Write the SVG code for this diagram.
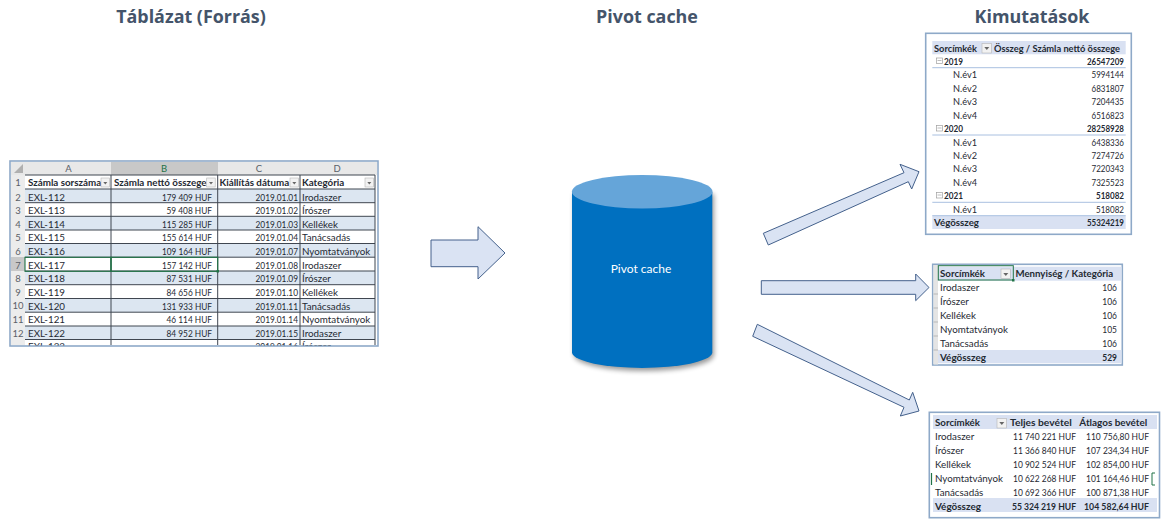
<svg xmlns="http://www.w3.org/2000/svg" width="1161" height="525" viewBox="0 0 1161 525">
<style>
text{font-family:"Lato","Liberation Sans",sans-serif;font-size:9.8px;fill:#1f2a33}
.t{font-family:"Open Sans","Liberation Sans",sans-serif;font-size:17.9px;font-weight:700;fill:#44546a;text-anchor:middle}
.b{font-weight:700}
.r{text-anchor:end}
.c{text-anchor:middle}
.hd{fill:#5a6068;font-size:9.5px;text-anchor:middle}
.frame{fill:#fff;stroke:#8ea9c8;stroke-width:1.6}
.band{fill:#d9e1f2}
.arrow{fill:#dae3f3;stroke:#44618c;stroke-width:1}
.grid{stroke:#3f4650;stroke-width:1}
.lb{stroke:#a9c0e0;stroke-width:1}
.btn{fill:#f2f2f2;stroke:#b5b5b5;stroke-width:.6}
.tri{fill:#666}
</style>
<defs>
<filter id="blur" x="-10%" y="-10%" width="120%" height="120%"><feGaussianBlur stdDeviation="2.4"/></filter>
<clipPath id="tableclip"><rect x="11" y="162" width="366" height="183.500"/></clipPath>
</defs>
<text class="t" x="191" y="23">Táblázat (Forrás)</text>
<text class="t" x="647" y="23">Pivot cache</text>
<text class="t" x="1032" y="23">Kimutatások</text>

<g id="source-table">
<rect class="frame" x="10" y="161" width="368" height="185"/>
<rect x="11" y="162" width="366" height="13" fill="#e8e8e8"/>
<rect x="111" y="162" width="107" height="13" fill="#c8c8c8"/>
<rect x="11" y="175" width="14" height="170" fill="#ececec"/>
<rect x="11" y="257" width="14" height="14" fill="#c8c8c8"/>
<polygon points="14,173 23,173 23,164" fill="#b0b0b0"/>
<rect x="25" y="189" width="350" height="13.700" fill="#dce6f1"/>
<rect x="25" y="216.300" width="350" height="13.700" fill="#dce6f1"/>
<rect x="25" y="243.500" width="350" height="13.700" fill="#dce6f1"/>
<rect x="25" y="271" width="350" height="13.700" fill="#dce6f1"/>
<rect x="25" y="298.500" width="350" height="13.700" fill="#dce6f1"/>
<rect x="25" y="326" width="350" height="13.500" fill="#dce6f1"/>
<g class="grid">
<path d="M25 175H375M25 189H375M25 202.700H375M25 216.300H375M25 230H375M25 243.500H375M25 257.200H375M25 271H375M25 284.700H375M25 298.500H375M25 312.200H375M25 326H375M25 339.500H375"/>
<path d="M111 175V345M217.700 175V345M300 175V345M375 175V345"/>
</g>
<text class="hd" x="68.500" y="172">A</text><text class="hd" x="164" y="172" style="fill:#217346">B</text><text class="hd" x="259" y="172">C</text><text class="hd" x="337" y="172">D</text>
<g>
<text class="hd" x="18" y="186">1</text><text class="hd" x="18" y="200.500">2</text><text class="hd" x="18" y="214">3</text><text class="hd" x="18" y="227.500">4</text><text class="hd" x="18" y="241">5</text><text class="hd" x="18" y="254.500">6</text><text class="hd" x="18" y="268.500">7</text><text class="hd" x="18" y="282">8</text><text class="hd" x="18" y="295.500">9</text><text class="hd" x="18" y="309">10</text><text class="hd" x="18" y="323">11</text><text class="hd" x="18" y="336.500">12</text>
</g>
<g>
<text class="b" x="28" y="186">Számla sorszáma</text><text class="b" x="114" y="186">Számla nettó összege</text><text class="b" x="219.500" y="186">Kiállítás dátuma</text><text class="b" x="302" y="186">Kategória</text>
<rect class="btn" x="101" y="178" width="8.500" height="9"/><polygon class="tri" points="103.300,182 107.300,182 105.300,184.500"/>
<rect class="btn" x="206.700" y="178" width="8.500" height="9"/><polygon class="tri" points="209,182 213,182 211,184.500"/>
<rect class="btn" x="290" y="178" width="8.500" height="9"/><polygon class="tri" points="292.300,182 296.300,182 294.300,184.500"/>
<rect class="btn" x="365" y="178" width="8.500" height="9"/><polygon class="tri" points="367.300,182 371.300,182 369.300,184.500"/>
</g>
<g>
<text x="28" y="200.500">EXL-112</text><text class="r" x="212" y="200.500" textLength="50" lengthAdjust="spacingAndGlyphs">179 409 HUF</text><text x="255.500" y="200.500" textLength="42.500" lengthAdjust="spacingAndGlyphs">2019.01.01</text><text x="302" y="200.500">Irodaszer</text>
<text x="28" y="214">EXL-113</text><text class="r" x="212" y="214" textLength="45.500" lengthAdjust="spacingAndGlyphs">59 408 HUF</text><text x="255.500" y="214" textLength="42.500" lengthAdjust="spacingAndGlyphs">2019.01.02</text><text x="302" y="214">Írószer</text>
<text x="28" y="227.500">EXL-114</text><text class="r" x="212" y="227.500" textLength="50" lengthAdjust="spacingAndGlyphs">115 285 HUF</text><text x="255.500" y="227.500" textLength="42.500" lengthAdjust="spacingAndGlyphs">2019.01.03</text><text x="302" y="227.500">Kellékek</text>
<text x="28" y="241">EXL-115</text><text class="r" x="212" y="241" textLength="50" lengthAdjust="spacingAndGlyphs">155 614 HUF</text><text x="255.500" y="241" textLength="42.500" lengthAdjust="spacingAndGlyphs">2019.01.04</text><text x="302" y="241">Tanácsadás</text>
<text x="28" y="254.500">EXL-116</text><text class="r" x="212" y="254.500" textLength="50" lengthAdjust="spacingAndGlyphs">109 164 HUF</text><text x="255.500" y="254.500" textLength="42.500" lengthAdjust="spacingAndGlyphs">2019.01.07</text><text x="302" y="254.500">Nyomtatványok</text>
<text x="28" y="268.500">EXL-117</text><text class="r" x="212" y="268.500" textLength="50" lengthAdjust="spacingAndGlyphs">157 142 HUF</text><text x="255.500" y="268.500" textLength="42.500" lengthAdjust="spacingAndGlyphs">2019.01.08</text><text x="302" y="268.500">Irodaszer</text>
<text x="28" y="282">EXL-118</text><text class="r" x="212" y="282" textLength="45.500" lengthAdjust="spacingAndGlyphs">87 531 HUF</text><text x="255.500" y="282" textLength="42.500" lengthAdjust="spacingAndGlyphs">2019.01.09</text><text x="302" y="282">Írószer</text>
<text x="28" y="295.500">EXL-119</text><text class="r" x="212" y="295.500" textLength="45.500" lengthAdjust="spacingAndGlyphs">84 656 HUF</text><text x="255.500" y="295.500" textLength="42.500" lengthAdjust="spacingAndGlyphs">2019.01.10</text><text x="302" y="295.500">Kellékek</text>
<text x="28" y="309.500">EXL-120</text><text class="r" x="212" y="309.500" textLength="50" lengthAdjust="spacingAndGlyphs">131 933 HUF</text><text x="255.500" y="309.500" textLength="42.500" lengthAdjust="spacingAndGlyphs">2019.01.11</text><text x="302" y="309.500">Tanácsadás</text>
<text x="28" y="323">EXL-121</text><text class="r" x="212" y="323" textLength="45.500" lengthAdjust="spacingAndGlyphs">46 114 HUF</text><text x="255.500" y="323" textLength="42.500" lengthAdjust="spacingAndGlyphs">2019.01.14</text><text x="302" y="323">Nyomtatványok</text>
<text x="28" y="336.500">EXL-122</text><text class="r" x="212" y="336.500" textLength="45.500" lengthAdjust="spacingAndGlyphs">84 952 HUF</text><text x="255.500" y="336.500" textLength="42.500" lengthAdjust="spacingAndGlyphs">2019.01.15</text><text x="302" y="336.500">Irodaszer</text>
</g>
<g clip-path="url(#tableclip)">
<text x="28" y="350">EXL-123</text><text x="255.500" y="350" textLength="42.500" lengthAdjust="spacingAndGlyphs">2019.01.16</text><text x="302" y="350">Írószer</text>
</g>
<rect x="25" y="257.300" width="86" height="14" fill="none" stroke="#217346" stroke-width="1.100"/>
<rect x="111" y="257.300" width="106.700" height="14" fill="none" stroke="#217346" stroke-width="1.200"/>
<rect x="216.500" y="270" width="2.500" height="2.500" fill="#217346"/>
</g>

<g id="connectors">
<polygon class="arrow" points="431,240 478,240 478,226.700 505,253 478,279 478,266.700 431,266.700"/>
<polygon class="arrow" points="763.300,233.300 904,172.700 900,164.300 919,171.700 911.700,189 908.300,181.700 768.300,245"/>
<polygon class="arrow" points="761.300,280.700 915.700,280.700 915.700,274 929,287.500 915.700,300.700 915.700,294.300 761.300,294.300"/>
<polygon class="arrow" points="757.300,324.300 909.300,400 912.700,392.300 919,411 900.300,416 904,407.300 752.700,336.300"/>
</g>

<g id="pivot-cache">
<path d="M574 194V355A70 16 0 0 0 714 355V194Z" fill="#000" opacity=".4" filter="url(#blur)"/>
<path d="M572 192V353A70.300 16 0 0 0 712.300 353V192Z" fill="#0070c0"/>
<ellipse cx="642.200" cy="191.700" rx="70.300" ry="16.700" fill="#65a5d9"/>
<text x="641" y="273" class="c" style="fill:#fff;font-size:12px">Pivot cache</text>
</g>

<g id="pivot-year">
<rect class="frame" x="925.700" y="33.300" width="205.600" height="201"/>
<rect class="band" x="932.300" y="41" width="193.400" height="13.300"/>
<rect class="band" x="932.300" y="215.700" width="193.400" height="13.300"/>
<rect class="btn" x="982" y="43.500" width="9.500" height="9.500"/><polygon class="tri" points="984.300,47 989.300,47 986.800,50"/>
<path class="lb" d="M932.300 67.700H1125.700M932.300 135H1125.700M932.300 202.300H1125.700M932.300 215.700H1125.700"/>
<g fill="none" stroke="#a0a0a0" stroke-width=".7"><path d="M937.500 60.500h4M937.500 128h4M937.500 195h4"/><rect x="936.500" y="58" width="6" height="5.500"/><rect x="936.500" y="125.500" width="6" height="5.500"/><rect x="936.500" y="192.500" width="6" height="5.500"/></g>
<text class="b" x="934" y="51.500" textLength="43" lengthAdjust="spacingAndGlyphs">Sorcímkék</text><text class="b" x="994" y="51.500" textLength="126" lengthAdjust="spacingAndGlyphs">Összeg / Számla nettó összege</text>
<text class="b" x="944" y="64.500" textLength="19" lengthAdjust="spacingAndGlyphs">2019</text><text class="b r" x="1124" y="64.500" textLength="37" lengthAdjust="spacingAndGlyphs">26547209</text>
<text x="953" y="78" textLength="24" lengthAdjust="spacingAndGlyphs">N.év1</text><text class="r" x="1124" y="78" textLength="32.500" lengthAdjust="spacingAndGlyphs">5994144</text>
<text x="953" y="91.500" textLength="24" lengthAdjust="spacingAndGlyphs">N.év2</text><text class="r" x="1124" y="91.500" textLength="32.500" lengthAdjust="spacingAndGlyphs">6831807</text>
<text x="953" y="105" textLength="24" lengthAdjust="spacingAndGlyphs">N.év3</text><text class="r" x="1124" y="105" textLength="32.500" lengthAdjust="spacingAndGlyphs">7204435</text>
<text x="953" y="118.500" textLength="24" lengthAdjust="spacingAndGlyphs">N.év4</text><text class="r" x="1124" y="118.500" textLength="32.500" lengthAdjust="spacingAndGlyphs">6516823</text>
<text class="b" x="944" y="132" textLength="19" lengthAdjust="spacingAndGlyphs">2020</text><text class="b r" x="1124" y="132" textLength="37" lengthAdjust="spacingAndGlyphs">28258928</text>
<text x="953" y="145.500" textLength="24" lengthAdjust="spacingAndGlyphs">N.év1</text><text class="r" x="1124" y="145.500" textLength="32.500" lengthAdjust="spacingAndGlyphs">6438336</text>
<text x="953" y="159" textLength="24" lengthAdjust="spacingAndGlyphs">N.év2</text><text class="r" x="1124" y="159" textLength="32.500" lengthAdjust="spacingAndGlyphs">7274726</text>
<text x="953" y="172" textLength="24" lengthAdjust="spacingAndGlyphs">N.év3</text><text class="r" x="1124" y="172" textLength="32.500" lengthAdjust="spacingAndGlyphs">7220343</text>
<text x="953" y="185.500" textLength="24" lengthAdjust="spacingAndGlyphs">N.év4</text><text class="r" x="1124" y="185.500" textLength="32.500" lengthAdjust="spacingAndGlyphs">7325523</text>
<text class="b" x="944" y="199" textLength="19" lengthAdjust="spacingAndGlyphs">2021</text><text class="b r" x="1124" y="199" textLength="28" lengthAdjust="spacingAndGlyphs">518082</text>
<text x="953" y="212.500" textLength="24" lengthAdjust="spacingAndGlyphs">N.év1</text><text class="r" x="1124" y="212.500" textLength="28" lengthAdjust="spacingAndGlyphs">518082</text>
<text class="b" x="934" y="226" textLength="45" lengthAdjust="spacingAndGlyphs">Végösszeg</text><text class="b r" x="1124" y="226" textLength="37" lengthAdjust="spacingAndGlyphs">55324219</text>
</g>

<g id="pivot-category">
<rect class="frame" x="932.700" y="264.300" width="189.600" height="100.700"/>
<rect x="933.500" y="265" width="4.500" height="99.500" fill="#e4e4e4"/>
<rect class="band" x="938" y="266.700" width="183.500" height="14"/>
<rect class="band" x="938" y="350" width="183.500" height="13.300"/>
<path d="M933.500 294H938M933.500 308H938M933.500 322H938M933.500 336H938M933.500 350H938" stroke="#a8a8a8" stroke-width=".7"/>
<rect x="938.300" y="265.700" width="75" height="14.300" fill="none" stroke="#217346" stroke-width="1"/>
<rect x="1012" y="279" width="2.500" height="2.500" fill="#217346"/>
<rect class="btn" x="1001" y="269" width="9.500" height="9.500"/><polygon class="tri" points="1003.300,273 1008.300,273 1005.800,276"/>
<text class="b" x="940" y="277" textLength="45" lengthAdjust="spacingAndGlyphs">Sorcímkék</text><text class="b" x="1015.500" y="277" textLength="97.700" lengthAdjust="spacingAndGlyphs">Mennyiség / Kategória</text>
<text x="940" y="291">Irodaszer</text><text class="r" x="1117" y="291" textLength="14.700" lengthAdjust="spacingAndGlyphs">106</text>
<text x="940" y="305">Írószer</text><text class="r" x="1117" y="305" textLength="14.700" lengthAdjust="spacingAndGlyphs">106</text>
<text x="940" y="319">Kellékek</text><text class="r" x="1117" y="319" textLength="14.700" lengthAdjust="spacingAndGlyphs">106</text>
<text x="940" y="333" textLength="68" lengthAdjust="spacingAndGlyphs">Nyomtatványok</text><text class="r" x="1117" y="333" textLength="14.700" lengthAdjust="spacingAndGlyphs">105</text>
<text x="940" y="347">Tanácsadás</text><text class="r" x="1117" y="347" textLength="14.700" lengthAdjust="spacingAndGlyphs">106</text>
<text class="b" x="940" y="361" textLength="46" lengthAdjust="spacingAndGlyphs">Végösszeg</text><text class="b r" x="1117" y="361" textLength="14.700" lengthAdjust="spacingAndGlyphs">529</text>
</g>

<g id="pivot-revenue">
<rect class="frame" x="929.300" y="412.300" width="230.200" height="105.400"/>
<rect class="band" x="933" y="415" width="224" height="14"/>
<rect class="band" x="933" y="498" width="224" height="14"/>
<rect class="btn" x="997" y="418.500" width="9.500" height="9.500"/><polygon class="tri" points="999.300,422 1004.300,422 1001.800,425"/>
<path d="M931.500 473V485" stroke="#217346" stroke-width="1.200"/>
<path d="M1155 473H1152V485H1155" fill="none" stroke="#217346" stroke-width="1"/>
<text class="b" x="935" y="426" textLength="45" lengthAdjust="spacingAndGlyphs">Sorcímkék</text><text class="b" x="1010" y="426" textLength="61.700" lengthAdjust="spacingAndGlyphs">Teljes bevétel</text><text class="b" x="1079.300" y="426" textLength="68" lengthAdjust="spacingAndGlyphs">Átlagos bevétel</text>
<text x="935" y="440">Irodaszer</text><text class="r" x="1076" y="440" textLength="63" lengthAdjust="spacingAndGlyphs">11 740 221 HUF</text><text class="r" x="1149" y="440" textLength="63" lengthAdjust="spacingAndGlyphs">110 756,80 HUF</text>
<text x="935" y="454">Írószer</text><text class="r" x="1076" y="454" textLength="63" lengthAdjust="spacingAndGlyphs">11 366 840 HUF</text><text class="r" x="1149" y="454" textLength="63" lengthAdjust="spacingAndGlyphs">107 234,34 HUF</text>
<text x="935" y="468">Kellékek</text><text class="r" x="1076" y="468" textLength="63" lengthAdjust="spacingAndGlyphs">10 902 524 HUF</text><text class="r" x="1149" y="468" textLength="63" lengthAdjust="spacingAndGlyphs">102 854,00 HUF</text>
<text x="935" y="482" textLength="68" lengthAdjust="spacingAndGlyphs">Nyomtatványok</text><text class="r" x="1076" y="482" textLength="63" lengthAdjust="spacingAndGlyphs">10 622 268 HUF</text><text class="r" x="1149" y="482" textLength="63" lengthAdjust="spacingAndGlyphs">101 164,46 HUF</text>
<text x="935" y="496">Tanácsadás</text><text class="r" x="1076" y="496" textLength="63" lengthAdjust="spacingAndGlyphs">10 692 366 HUF</text><text class="r" x="1149" y="496" textLength="63" lengthAdjust="spacingAndGlyphs">100 871,38 HUF</text>
<text class="b" x="935" y="510" textLength="46" lengthAdjust="spacingAndGlyphs">Végösszeg</text><text class="b r" x="1076" y="510" textLength="64" lengthAdjust="spacingAndGlyphs">55 324 219 HUF</text><text class="b r" x="1149" y="510" textLength="65" lengthAdjust="spacingAndGlyphs">104 582,64 HUF</text>
</g>
</svg>
